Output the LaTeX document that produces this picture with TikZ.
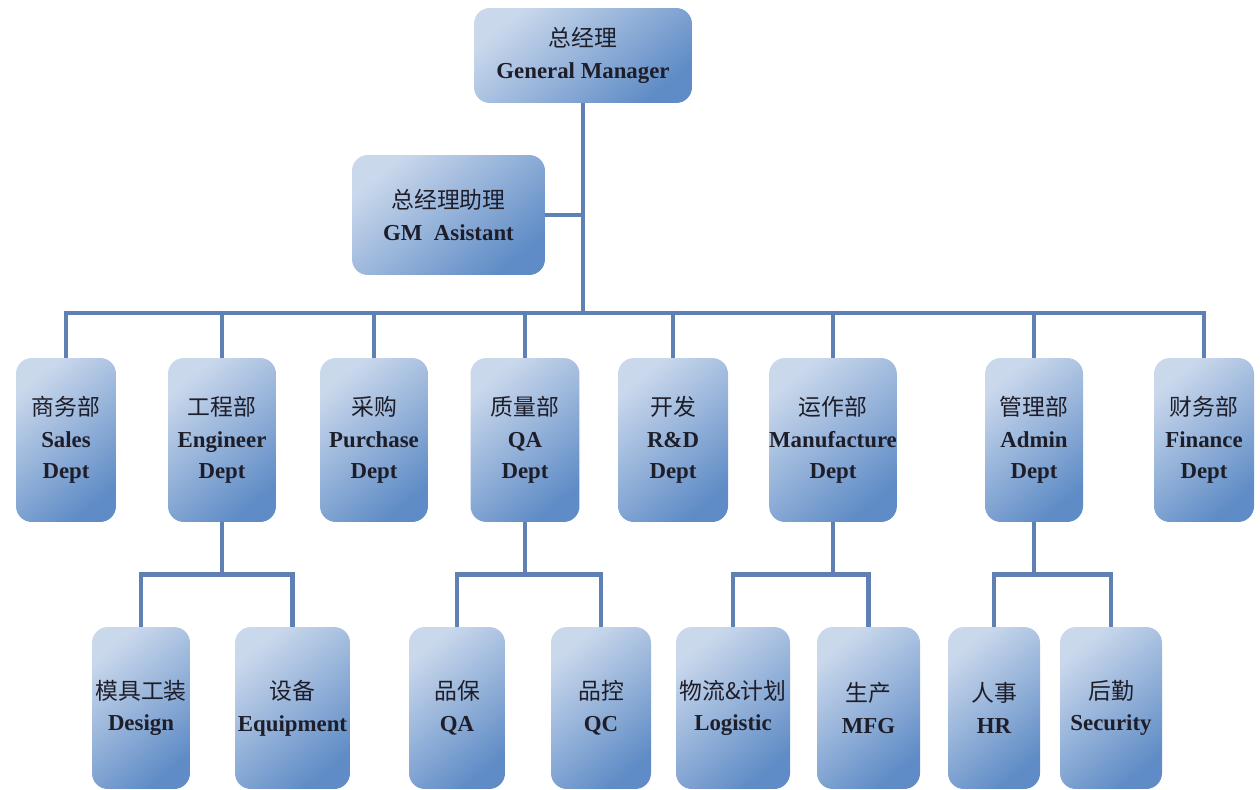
\documentclass[tikz,border=0pt]{standalone}
\usepackage{fontspec}
\setmainfont{Liberation Serif}
\newfontfamily\cjk{Noto Sans CJK SC}
\usetikzlibrary{calc,backgrounds}
\newcommand{\zh}[1]{{\cjk\mdseries\fontsize{13}{18}\selectfont #1}}

\definecolor{boxlight}{HTML}{CAD8EC}
\definecolor{boxmid}{HTML}{BCCDE6}
\definecolor{boxdark}{HTML}{5F8CC6}
\definecolor{linkblue}{HTML}{5E80B2}
\definecolor{inktext}{HTML}{1E1E2A}

\tikzset{
  unit/.style={rounded corners=9pt, top color=boxlight, middle color=boxmid,
    bottom color=boxdark, shading angle=40, text=inktext, align=center,
    inner sep=0pt, font=\fontsize{13}{18}\selectfont\bfseries},
  dept/.style={unit, minimum height=3.28cm},
  team/.style={unit, minimum height=3.24cm},
  link/.style={draw=linkblue, line width=2.8pt, line cap=rect}
}

\begin{document}
\begin{tikzpicture}[x=0.02cm,y=-0.02cm]
  \useasboundingbox (0,0) rectangle (1260,790);

  %% top level
  \node[unit, minimum width=4.36cm, minimum height=1.9cm] (gm) at (583,55.5)
    {\zh{总经理}\\General Manager};
  \node[unit, minimum width=3.86cm, minimum height=2.4cm] (asst) at (448.5,215)
    {\zh{总经理助理}\\GM~~Asistant};

  %% departments
  \node[dept, minimum width=2.00cm] (sales) at (66,440)  {\zh{商务部}\\Sales\\Dept};
  \node[dept, minimum width=2.16cm] (eng)   at (222,440) {\zh{工程部}\\Engineer\\Dept};
  \node[dept, minimum width=2.16cm] (purch) at (374,440) {\zh{采购}\\Purchase\\Dept};
  \node[dept, minimum width=2.18cm] (qa)    at (525,440) {\zh{质量部}\\QA\\Dept};
  \node[dept, minimum width=2.20cm] (rd)    at (673,440) {\zh{开发}\\R\&D\\Dept};
  \node[dept, minimum width=2.52cm] (mfg)   at (833,440) {\zh{运作部}\\Manufacture\\Dept};
  \node[dept, minimum width=1.96cm] (admin) at (1034,440) {\zh{管理部}\\Admin\\Dept};
  \node[dept, minimum width=2.00cm] (fin)   at (1204,440) {\zh{财务部}\\Finance\\Dept};

  %% teams
  \node[team, minimum width=1.96cm] (design) at (141,708)  {\zh{模具工装}\\Design};
  \node[team, minimum width=2.30cm] (equip)  at (292.5,708) {\zh{设备}\\Equipment};
  \node[team, minimum width=1.92cm] (qab)    at (457,708)  {\zh{品保}\\QA};
  \node[team, minimum width=2.00cm] (qcb)    at (601,708)  {\zh{品控}\\QC};
  \node[team, minimum width=2.28cm] (logi)   at (733,708)  {\zh{物流\&计划}\\Logistic};
  \node[team, minimum width=2.06cm] (prod)   at (868.5,708) {\zh{生产}\\MFG};
  \node[team, minimum width=1.84cm] (hr)     at (994,708)  {\zh{人事}\\HR};
  \node[team, minimum width=2.04cm] (secu)   at (1111,708) {\zh{后勤}\\Security};

  %% connectors
  \begin{scope}[on background layer]
    \coordinate (bus) at (583,313);
    \draw[link] (gm.south) -- (bus);
    \draw[link] (asst.east) -- (asst.east -| gm.south);
    \draw[link] (sales.north |- bus) -- (fin.north |- bus);
    \foreach \d in {sales,eng,purch,qa,rd,mfg,admin,fin}
      \draw[link] (\d.north) -- (\d.north |- bus);
    \foreach \p/\a/\b in {eng/design/equip, qa/qab/qcb, mfg/logi/prod, admin/hr/secu}{
      \coordinate (mid) at ($(\p.south)!.5!(\a.north)$);
      \draw[link] (\p.south) -- (\p.south |- mid);
      \draw[link] (\a.north) -- (\a.north |- mid) -- (\b.north |- mid) -- (\b.north);
    }
  \end{scope}
\end{tikzpicture}
\end{document}
